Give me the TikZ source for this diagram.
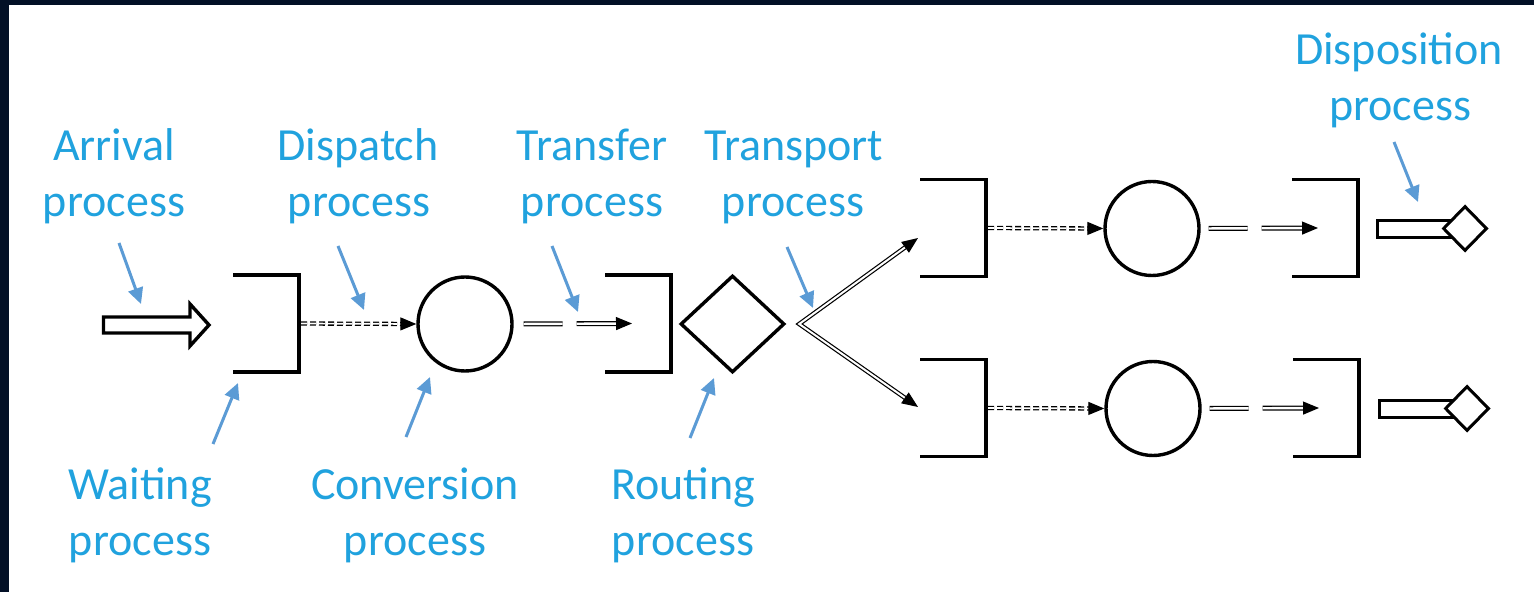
\documentclass[tikz,border=0pt]{standalone}
\usepackage{fontspec}
\setmainfont{Carlito}
\usetikzlibrary{arrows.meta,shapes.geometric,calc}
\definecolor{frame}{RGB}{2,16,38}
\definecolor{lbltext}{RGB}{32,162,222}
\definecolor{pointer}{RGB}{91,155,213}
\begin{document}
\begin{tikzpicture}[x=0.5pt, y=-0.5pt,
  lbl/.style={text=lbltext, font=\fontsize{23}{27}\selectfont, anchor=base, inner sep=0pt},
  ptr/.style={draw=pointer, line width=1.5pt, -{Triangle[length=8pt,width=7.5pt]}},
  holder/.style={minimum width=33pt, minimum height=48.5pt, inner sep=0pt, outer sep=0pt},
  bracket/.style={line width=1.7pt, line join=miter},
  server/.style={circle, draw, line width=1.7pt, minimum size=47pt, inner sep=0pt},
  router/.style={diamond, draw, line width=1.7pt, inner sep=0pt, minimum width=52pt, minimum height=48.5pt},
  sink/.style={diamond, draw, fill=white, line width=1.5pt, inner sep=0pt, minimum width=22pt, minimum height=22.5pt},
  sym/.style={line width=1.5pt, line join=miter},
  dotconn/.style={double, line width=0.65pt, double distance=0.85pt, dash pattern=on 3pt off 1.5pt, shorten <=1pt, shorten >=5pt},
  dashconn/.style={double, line width=0.65pt, double distance=1.2pt, dash pattern=on 19.5pt off 7pt on 80pt, shorten >=5pt},
  vconn/.style={double, line width=0.6pt, double distance=1pt, line join=miter, shorten <=5pt, shorten >=5pt},
  headtip/.style={line width=0.6pt, -{Triangle[length=8pt,width=6.5pt]}}
]
% frame and page
\fill[frame] (0,0) rectangle (1534,592);
\fill[white] (8.5,5) rectangle (1534,592);
\useasboundingbox (0,0) rectangle (1534,592);

% arrival: hollow block arrow
\draw[line width=1.7pt, line join=miter]
  (103.5,317) -- (190,317) -- (190,304) -- (209,325) -- (190,346) -- (190,333) -- (103.5,333) -- cycle;

% queues (open brackets)
\node[holder] (b1) at (266,323.5) {};
\node[holder] (b2) at (638,323.5) {};
\node[holder] (b3) at (953,228) {};
\node[holder] (b4) at (1325,228) {};
\node[holder] (b5) at (953,408) {};
\node[holder] (b6) at (1326,408) {};
\foreach \b in {b1,b2,b3,b4,b5,b6}
  \draw[bracket] (\b.north west) -- (\b.north east) -- (\b.south east) -- (\b.south west);

% servers
\node[server] (c1) at (465,324) {};
\node[server] (c3) at (1152,228.5) {};
\node[server] (c4) at (1153,408.5) {};

% routing
\node[router] (rt) at (732.5,324) {};

% dispatch: dotted double arrows
\draw[dotconn] (b1.east) -- (c1.west);
\draw[headtip] ($(c1.west)!8pt!(b1.east)$) -- (c1.west);
\draw[dotconn] (b3.east) -- (c3.west);
\draw[headtip] ($(c3.west)!8pt!(b3.east)$) -- (c3.west);
\draw[dotconn] (b5.east) -- (c4.west);
\draw[headtip] ($(c4.west)!8pt!(b5.east)$) -- (c4.west);

% transfer: broken double arrows
\coordinate (b2in) at ($(b2.west)+(27,0)$);
\coordinate (b4in) at ($(b4.west)+(26,0)$);
\coordinate (b6in) at ($(b6.west)+(26,0)$);
\draw[dashconn, shorten <=5pt] (c1.east) -- (b2in);
\draw[headtip] ($(b2in)!8pt!(c1.east)$) -- (b2in);
\draw[dashconn, shorten <=4pt] (c3.east) -- (b4in);
\draw[headtip] ($(b4in)!8pt!(c3.east)$) -- (b4in);
\draw[dashconn, shorten <=4pt] (c4.east) -- (b6in);
\draw[headtip] ($(b6in)!8pt!(c4.east)$) -- (b6in);

% transport: forked double arrows
\coordinate (vtx) at ($(rt.east)+(13,0)$);
\coordinate (t3) at ($(b3.west)+(-2,10)$);
\coordinate (t5) at ($(b5.west)+(-2,-1)$);
\draw[vconn] (t3) -- (vtx) -- (t5);
\draw[headtip] ($(t3)!8pt!(vtx)$) -- (t3);
\draw[headtip] ($(t5)!8pt!(vtx)$) -- (t5);

% disposition symbols
\draw[sym] (1377.5,220.5) rectangle (1452,237.5);
\node[sink] (d1) at (1465,228.5) {};
\draw[sym] (1379.5,400.5) rectangle (1454,417.5);
\node[sink] (d2) at (1467,408.5) {};

% labels
\node[lbl] (arrival)   at (114,161) {Arrival};
\node[lbl] (arrivalp)  at (114,217) {process};
\node[lbl] (dispatch)  at (358,161) {Dispatch};
\node[lbl] (dispatchp) at (359,217) {process};
\node[lbl] (transfer)  at (592,161) {Transfer};
\node[lbl] (transferp) at (592,217) {process};
\node[lbl] (transport) at (794,161) {Transport};
\node[lbl] (transportp) at (793,217) {process};
\node[lbl] (dispo)     at (1399,65) {Disposition};
\node[lbl] (dispop)    at (1400,121) {process};
\node[lbl] (waiting)   at (140,499) {Waiting};
\node[lbl] (waitingp)  at (140,555) {process};
\node[lbl] (conv)      at (415,499) {Conversion};
\node[lbl] (convp)     at (415,555) {process};
\node[lbl] (routing)   at (683,499) {Routing};
\node[lbl] (routingp)  at (683,555) {process};

% pointers from labels to the elements
\coordinate (pa1) at (119,243);  \coordinate (pa2) at (141,304);
\coordinate (pd1) at (338,246);  \coordinate (pd2) at (364,310);
\coordinate (pt1) at (552,246);  \coordinate (pt2) at (578,312);
\coordinate (pr1) at (787,247);  \coordinate (pr2) at (813,308);
\coordinate (ps1) at (1394,142); \coordinate (ps2) at (1418,202);
\coordinate (pw1) at (213,444);  \coordinate (pw2) at (238,383);
\coordinate (pc1) at (406,437);  \coordinate (pc2) at (430,377);
\coordinate (po1) at (690,438);  \coordinate (po2) at (714,378);
\draw[ptr] (pa1) -- (pa2);
\draw[ptr] (pd1) -- (pd2);
\draw[ptr] (pt1) -- (pt2);
\draw[ptr] (pr1) -- (pr2);
\draw[ptr] (ps1) -- (ps2);
\draw[ptr] (pw1) -- (pw2);
\draw[ptr] (pc1) -- (pc2);
\draw[ptr] (po1) -- (po2);
\end{tikzpicture}
\end{document}
